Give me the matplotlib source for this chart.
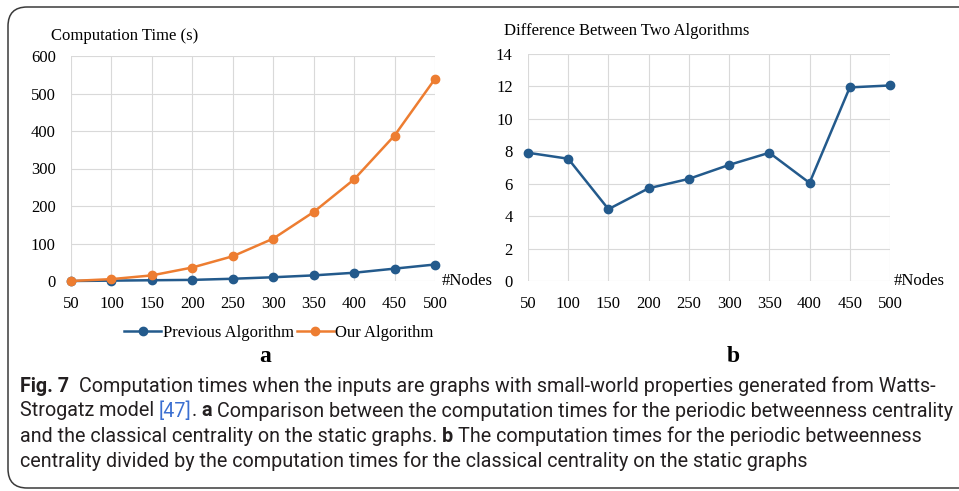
import matplotlib.pyplot as plt
import numpy as np
from matplotlib.patches import FancyBboxPatch
from matplotlib.lines import Line2D

# Données
nodes = [50, 100, 150, 200, 250, 300, 350, 400, 450, 500]
t_previous = [0, 1, 2, 3, 6, 10, 15, 22, 33, 44]
t_ours = [0, 5, 15, 36, 66, 113, 184, 271, 388, 539]
difference = [7.91, 7.54, 4.43, 5.72, 6.30, 7.16, 7.91, 6.05, 11.94, 12.06]

blue = '#235a8c'
orange = '#ed7d31'
serif = 'Liberation Serif'
fs = 12

W, H = 959, 491
fig = plt.figure(figsize=(W / 100, H / 100), dpi=100)
fig.patch.set_facecolor('white')

# Cadre arrondi de la figure
cadre = FancyBboxPatch((8 / W, 3 / H), 1.2, 481 / H,
                       boxstyle="round,pad=0,rounding_size=0.02",
                       transform=fig.transFigure, fill=False,
                       edgecolor='#3a3a3a', lw=1.1, mutation_aspect=W / H)
fig.patches.append(cadre)


def style_axes(ax, ymax, ystep):
    ax.set_xlim(50, 500)
    ax.set_ylim(0, ymax)
    ax.set_xticks(nodes)
    ax.set_yticks(np.arange(0, ymax + ystep / 2, ystep))
    ax.grid(True, color='#d9d9d9', lw=0.8)
    ax.set_axisbelow(True)
    for s in ax.spines.values():
        s.set_visible(False)
    ax.tick_params(length=0, pad=11, labelsize=fs)
    for lab in ax.get_xticklabels() + ax.get_yticklabels():
        lab.set_fontfamily(serif)


# (a) temps de calcul
ax1 = fig.add_axes([71 / W, 1 - 281 / H, 364 / W, 225 / H])
style_axes(ax1, 600, 100)
ax1.plot(nodes, t_previous, color=blue, lw=1.8, marker='o', ms=6, clip_on=False, zorder=3)
ax1.plot(nodes, t_ours, color=orange, lw=1.8, marker='o', ms=6, clip_on=False, zorder=3)
fig.text(51 / W, 1 - 36 / H, 'Computation Time (s)', family=serif, fontsize=fs, va='center')
fig.text(442 / W, 1 - 281 / H, '#Nodes', family=serif, fontsize=fs, va='center')

handles = [Line2D([], [], color=blue, lw=1.8, marker='o', ms=6),
           Line2D([], [], color=orange, lw=1.8, marker='o', ms=6)]
fig.legend(handles, ['Previous Algorithm', 'Our Algorithm'], loc='center',
           bbox_to_anchor=(279 / W, 1 - 333 / H), ncol=2, frameon=False,
           prop={'family': serif, 'size': fs}, handlelength=2.2,
           handletextpad=0.1, columnspacing=0.2)
fig.text(265 / W, 1 - 357 / H, 'a', family=serif, fontsize=17, weight='bold',
         ha='center', va='center')

# (b) rapport entre les deux algorithmes
ax2 = fig.add_axes([528 / W, 1 - 281 / H, 362 / W, 227 / H])
style_axes(ax2, 14, 2)
ax2.plot(nodes, difference, color=blue, lw=1.8, marker='o', ms=6, clip_on=False, zorder=3)
fig.text(504 / W, 1 - 31 / H, 'Difference Between Two Algorithms', family=serif,
         fontsize=fs, va='center')
fig.text(894 / W, 1 - 281 / H, '#Nodes', family=serif, fontsize=fs, va='center')
fig.text(733 / W, 1 - 357 / H, 'b', family=serif, fontsize=17, weight='bold',
         ha='center', va='center')

# Légende de la figure (texte à styles mélangés)
cap_font = ['Roboto', 'DejaVu Sans']
renderer = fig.canvas.get_renderer()


def largeur(txt, size, **kw):
    t = fig.text(0, 0, txt, family=cap_font, fontsize=size, **kw)
    w = t.get_window_extent(renderer).width
    t.remove()
    return w


# taille choisie pour que la 2e ligne finisse vers x = 950 px comme sur l'original
ref_txt = 'Strogatz model [47]. a Comparison between the computation times for the periodic betweenness centrality'
cap_size = 12 * 930 / largeur(ref_txt, 12)
espace = largeur('x x', cap_size) - largeur('xx', cap_size)


def ligne(y, morceaux):
    x = 20
    for txt, kw in morceaux:
        if txt == ' ':
            x += espace
            continue
        t = fig.text(x / W, 1 - y / H, txt, family=cap_font, fontsize=cap_size,
                     va='center', color=kw.get('color', '#231f20'),
                     weight=kw.get('weight', 'normal'))
        x += t.get_window_extent(renderer).width


B = {'weight': 'bold'}
N = {}
ligne(386, [('Fig. 7', B), (' ', N), (' ', N),
            ('Computation times when the inputs are graphs with small-world properties generated from Watts-', N)])
ligne(411, [('Strogatz model', N), (' ', N), ('[47]', {'color': '#3b6fd1'}), ('.', N), (' ', N),
            ('a', B), (' ', N),
            ('Comparison between the computation times for the periodic betweenness centrality', N)])
ligne(436, [('and the classical centrality on the static graphs.', N), (' ', N), ('b', B), (' ', N),
            ('The computation times for the periodic betweenness', N)])
ligne(461, [('centrality divided by the computation times for the classical centrality on the static graphs', N)])

fig.savefig('out.png', dpi=100, facecolor='white')
